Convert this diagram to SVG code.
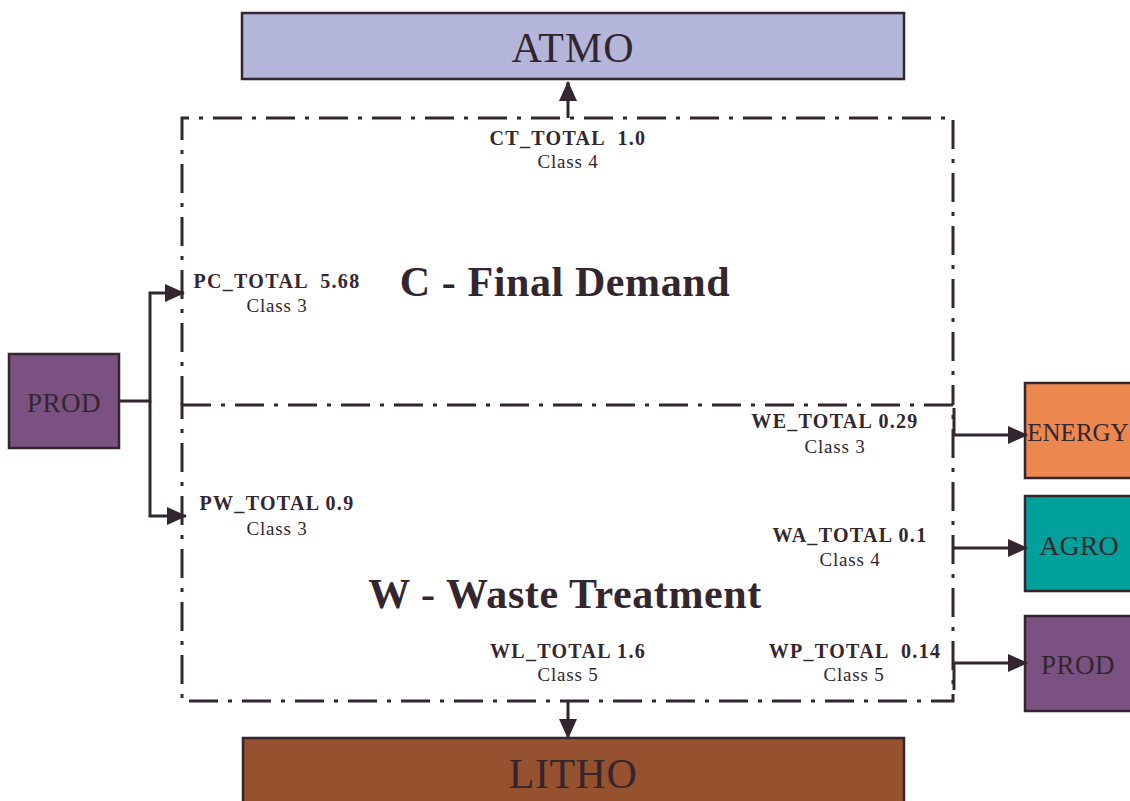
<svg xmlns="http://www.w3.org/2000/svg" width="1130" height="801" viewBox="0 0 1130 801">
<style>
.n{stroke:#33262f;stroke-width:2.5}
.b{fill:none;stroke:#33262f;stroke-width:3;stroke-dasharray:29 10 4 10}
.c{fill:none;stroke:#33262f;stroke-width:3}
.t{font-family:"Liberation Serif",serif;fill:#33262f;text-anchor:middle}
.lb{font-family:"Liberation Serif",serif;fill:#33262f;font-weight:bold;font-size:20px;text-anchor:middle;letter-spacing:1.3px}
.lc{font-family:"Liberation Serif",serif;fill:#33262f;font-size:19px;text-anchor:middle;letter-spacing:0.8px}
.h{font-family:"Liberation Serif",serif;fill:#33262f;font-weight:bold;font-size:42px;text-anchor:middle;letter-spacing:0.6px}
</style>
<defs>
<marker id="a2" markerWidth="20" markerHeight="18" refX="19" refY="9" orient="auto" markerUnits="userSpaceOnUse" viewBox="0 0 20 18"><path d="M0,0 L20,9 L0,18 z" fill="#33262f"/></marker>
</defs>
<g id="atmo"><rect class="n" x="242" y="13" width="662" height="66" fill="#b3b6d9"/><text class="t" x="573" y="62" font-size="42" letter-spacing="1">ATMO</text></g>
<g id="litho"><rect class="n" x="243" y="738" width="661" height="70" fill="#96522e"/><text class="t" x="573" y="788" font-size="42" letter-spacing="0.5">LITHO</text></g>
<g id="prod-in"><rect class="n" x="9" y="354" width="110" height="94" fill="#7b5182"/><text class="t" x="64" y="412" font-size="27" letter-spacing="0.5">PROD</text></g>
<g id="energy"><rect class="n" x="1025" y="383" width="110" height="95" fill="#eb874f"/><text class="t" x="1078" y="441" font-size="25">ENERGY</text></g>
<g id="agro"><rect class="n" x="1025" y="496" width="110" height="95" fill="#00a19a"/><text class="t" x="1079" y="555" font-size="28">AGRO</text></g>
<g id="prod-out"><rect class="n" x="1025" y="616" width="110" height="95" fill="#7b5182"/><text class="t" x="1078" y="674" font-size="27" letter-spacing="0.5">PROD</text></g>
<g id="c-final-demand"><path class="b" d="M182,405 V118 H953 V405"/><text class="h" x="565" y="296">C - Final Demand</text></g>
<g id="w-waste"><path class="b" d="M182,405 H953 V701 H182 Z"/><text class="h" x="565" y="608">W - Waste Treatment</text></g>
<g id="connectors">
<path class="c" d="M568,118 V82" marker-end="url(#a2)"/>
<path class="c" d="M119,401 H150 V293 H184" marker-end="url(#a2)"/>
<path class="c" d="M150,401 V516 H186" marker-end="url(#a2)"/>
<path class="c" d="M954,408 V435 H1027" marker-end="url(#a2)"/>
<path class="c" d="M954,548 H1027" marker-end="url(#a2)"/>
<path class="c" d="M954,690 V663 H1027" marker-end="url(#a2)"/>
<path class="c" d="M568,701 V738" marker-end="url(#a2)"/>
</g>
<g id="labels">
<text class="lb" x="568" y="145" xml:space="preserve">CT_TOTAL  1.0</text><text class="lc" x="568" y="168">Class 4</text>
<text class="lb" x="277" y="288" xml:space="preserve">PC_TOTAL  5.68</text><text class="lc" x="277" y="312">Class 3</text>
<text class="lb" x="835" y="428">WE_TOTAL 0.29</text><text class="lc" x="835" y="453">Class 3</text>
<text class="lb" x="277" y="510">PW_TOTAL 0.9</text><text class="lc" x="277" y="535">Class 3</text>
<text class="lb" x="850" y="542">WA_TOTAL 0.1</text><text class="lc" x="850" y="566">Class 4</text>
<text class="lb" x="568" y="658">WL_TOTAL 1.6</text><text class="lc" x="568" y="681">Class 5</text>
<text class="lb" x="855" y="658" xml:space="preserve">WP_TOTAL  0.14</text><text class="lc" x="854" y="681">Class 5</text>
</g>
</svg>
